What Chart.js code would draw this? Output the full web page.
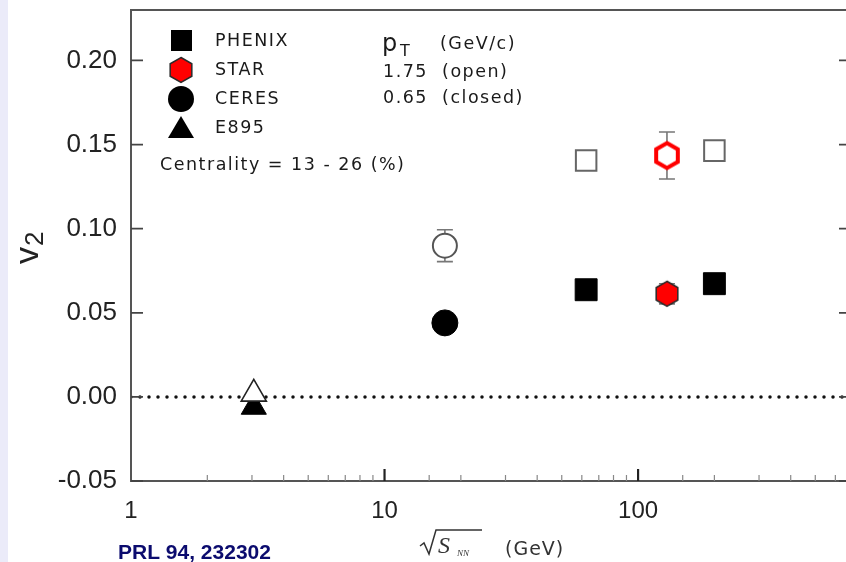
<!DOCTYPE html>
<html>
<head>
<meta charset="utf-8">
<script src="https://cdn.jsdelivr.net/npm/chart.js@4.4.1/dist/chart.umd.min.js"></script>
<style>
  html, body { margin: 0; padding: 0; overflow: hidden; }
  body { width: 846px; height: 562px; background: linear-gradient(to right, #ebebf9 0, #ebebf9 8px, #fff 8px); position: relative; }
  #wrap { position: absolute; left: 0; top: 0; width: 866px; height: 562px; }
</style>
</head>
<body>
<div id="wrap"><canvas id="v2Chart" width="866" height="562"></canvas></div>
<script>
// values (sqrt(s_NN) in GeV, v2)
const energyLabels = [1, 10, 100];
const phenixEnergy = [62.4, 200];
const phenixClosed = [0.0637, 0.0673];
const phenixOpen = [0.1405, 0.1464];
const starEnergy = [130];
const starClosed = [0.0613];
const starClosedErr = [0.006];
const starOpen = [0.1435];
const starOpenErr = [0.014];
const ceresEnergy = [17.3];
const ceresClosed = [0.044];
const ceresOpen = [0.0899];
const ceresOpenErr = [0.0095];
const e895Energy = [3.05];
const e895Closed = [-0.006];
const e895Open = [0.0018];
const zeroLineEnergy = [1, 673];
const zeroLineV2 = [0, 0];

function pts(xs, ys) {
  return xs.map((x, i) => ({ x: x, y: ys[i] }));
}

// hexagon marker (no built-in pointStyle for it)
function hexagon(fill, stroke, lw) {
  const c = document.createElement('canvas');
  c.width = 34; c.height = 34;
  const g = c.getContext('2d');
  g.beginPath();
  for (let i = 0; i < 6; i++) {
    const a = Math.PI / 3 * i - Math.PI / 2;
    const px = 17 + 12.5 * Math.cos(a), py = 17 + 12.5 * Math.sin(a);
    if (i === 0) g.moveTo(px, py); else g.lineTo(px, py);
  }
  g.closePath();
  g.fillStyle = fill;
  g.fill();
  g.lineWidth = lw;
  g.strokeStyle = stroke;
  g.stroke();
  return c;
}
const hexOpen = hexagon('#fff', '#ff0000', 4);
const hexClosed = hexagon('#ff0000', '#2a2a2a', 1.5);

const frame = {
  id: 'frame',
  beforeDatasetsDraw(chart) {
    const ctx = chart.ctx, ys = chart.scales.y;
    ctx.save();
    ctx.strokeStyle = '#777';
    ctx.lineWidth = 1.6;
    chart.data.datasets.forEach((ds, di) => {
      if (!ds.errors) return;
      const meta = chart.getDatasetMeta(di);
      meta.data.forEach((el, i) => {
        const v = ds.data[i].y, e = ds.errors[i];
        const top = ys.getPixelForValue(v + e), bot = ys.getPixelForValue(v - e);
        ctx.beginPath();
        ctx.moveTo(el.x, top); ctx.lineTo(el.x, bot);
        ctx.moveTo(el.x - 8, top); ctx.lineTo(el.x + 8, top);
        ctx.moveTo(el.x - 8, bot); ctx.lineTo(el.x + 8, bot);
        ctx.stroke();
      });
    });
    ctx.restore();
  },
  afterDraw(chart) {
    const ctx = chart.ctx, a = chart.chartArea;
    const xs = chart.scales.x, ys = chart.scales.y;
    ctx.save();
    // box
    ctx.strokeStyle = '#555';
    ctx.lineWidth = 2;
    ctx.beginPath();
    ctx.moveTo(a.right, a.top); ctx.lineTo(a.left, a.top);
    ctx.lineTo(a.left, a.bottom); ctx.lineTo(a.right, a.bottom);
    ctx.stroke();
    // x ticks
    xs.ticks.forEach(t => {
      if (t.value <= xs.min || t.value >= xs.max) return;
      const px = xs.getPixelForValue(t.value);
      const major = energyLabels.includes(t.value);
      ctx.lineWidth = major ? 2.2 : 1.2;
      ctx.strokeStyle = major ? '#222' : '#888';
      ctx.beginPath();
      ctx.moveTo(px, a.bottom); ctx.lineTo(px, a.bottom - (major ? 12 : 6));
      ctx.stroke();
    });
    // y ticks, left and right
    ctx.strokeStyle = '#444';
    ctx.lineWidth = 1.8;
    ys.ticks.forEach(t => {
      const py = ys.getPixelForValue(t.value);
      ctx.beginPath();
      ctx.moveTo(a.left, py); ctx.lineTo(a.left + 12, py);
      ctx.moveTo(a.right, py); ctx.lineTo(a.right - 9, py);
      ctx.stroke();
    });

    // legend
    ctx.fillStyle = '#000';
    ctx.fillRect(171, 30, 21, 21);
    ctx.drawImage(hexClosed, 181 - 17, 70 - 17);
    ctx.beginPath(); ctx.arc(181, 99, 13, 0, Math.PI * 2); ctx.fill();
    ctx.beginPath();
    ctx.moveTo(181, 116); ctx.lineTo(194, 138); ctx.lineTo(168, 138); ctx.closePath(); ctx.fill();

    ctx.fillStyle = '#1a1a1a';
    ctx.textBaseline = 'middle';
    ctx.textAlign = 'left';
    ctx.font = '17.5px "DejaVu Sans"';
    ctx.letterSpacing = '1.5px';
    ctx.fillText('PHENIX', 215, 41);
    ctx.fillText('STAR', 215, 70);
    ctx.fillText('CERES', 215, 99);
    ctx.fillText('E895', 215, 128);
    ctx.fillText('(GeV/c)', 440, 44);
    ctx.fillText('1.75  (open)', 383, 72);
    ctx.fillText('0.65  (closed)', 383, 98);
    ctx.fillText('Centrality = 13 - 26 (%)', 160, 165);
    ctx.letterSpacing = '0px';
    ctx.font = '24px "DejaVu Sans"';
    ctx.fillText('p', 382, 45);
    ctx.font = '16px "DejaVu Sans"';
    ctx.fillText('T', 400, 52);

    // x title
    ctx.strokeStyle = '#333';
    ctx.lineWidth = 1.5;
    ctx.beginPath();
    ctx.moveTo(420, 546); ctx.lineTo(424, 543); ctx.lineTo(429, 554);
    ctx.lineTo(436, 530); ctx.lineTo(482, 530);
    ctx.stroke();
    ctx.fillStyle = '#333';
    ctx.textBaseline = 'alphabetic';
    ctx.font = 'italic 24px "Liberation Serif"';
    ctx.fillText('S', 438, 553);
    ctx.font = 'italic 9px "Liberation Serif"';
    ctx.fillText('NN', 457, 556);
    ctx.font = '19px "DejaVu Sans"';
    ctx.letterSpacing = '1px';
    ctx.fillText('(GeV)', 505, 555);
    ctx.letterSpacing = '0px';

    // y title
    ctx.save();
    ctx.translate(38, 264);
    ctx.rotate(-Math.PI / 2);
    ctx.fillStyle = '#222';
    ctx.font = '34px "Liberation Sans"';
    ctx.fillText('v', 0, 0);
    ctx.font = '26px "Liberation Sans"';
    ctx.fillText('2', 18, 5);
    ctx.restore();

    // reference
    ctx.fillStyle = '#0b0b6e';
    ctx.font = 'bold 21px "Liberation Sans"';
    ctx.fillText('PRL 94, 232302', 118, 559);
    ctx.restore();
  }
};

function keepStep(step) {
  return function (scale) {
    scale.ticks = scale.ticks.filter(t => Math.abs(t.value / step - Math.round(t.value / step)) < 1e-6);
  };
}

const ctx = document.getElementById('v2Chart').getContext('2d');
const v2Chart = new Chart(ctx, {
  type: 'scatter',
  data: {
    datasets: [
      { label: 'E895 open', data: pts(e895Energy, e895Open), pointStyle: 'triangle', pointRadius: 14.5,
        backgroundColor: '#fff', borderColor: '#222', pointBorderWidth: 1.6, order: 0 },
      { label: 'CERES open', data: pts(ceresEnergy, ceresOpen), errors: ceresOpenErr, pointStyle: 'circle', pointRadius: 12,
        backgroundColor: '#fff', borderColor: '#555', pointBorderWidth: 2, order: 0 },
      { label: 'PHENIX open', data: pts(phenixEnergy, phenixOpen), pointStyle: 'rect', pointRadius: 14.5,
        backgroundColor: '#fff', borderColor: '#666', pointBorderWidth: 2, order: 0 },
      { label: 'STAR open', data: pts(starEnergy, starOpen), errors: starOpenErr, pointStyle: hexOpen, order: 0 },
      { label: 'E895 closed', data: pts(e895Energy, e895Closed), pointStyle: 'triangle', pointRadius: 14.5,
        backgroundColor: '#000', borderColor: '#000', pointBorderWidth: 1, order: 1 },
      { label: 'CERES closed', data: pts(ceresEnergy, ceresClosed), pointStyle: 'circle', pointRadius: 13,
        backgroundColor: '#000', borderColor: '#000', pointBorderWidth: 1, order: 1 },
      { label: 'PHENIX closed', data: pts(phenixEnergy, phenixClosed), pointStyle: 'rect', pointRadius: 15.5,
        backgroundColor: '#000', borderColor: '#000', pointBorderWidth: 1, order: 1 },
      { label: 'STAR closed', data: pts(starEnergy, starClosed), errors: starClosedErr, pointStyle: hexClosed, order: 1 },
      { label: 'zero', type: 'line', data: pts(zeroLineEnergy, zeroLineV2), showLine: true, pointRadius: 0,
        borderColor: '#111', borderWidth: 3.5, borderDash: [0, 9], borderCapStyle: 'round', order: 2 }
    ]
  },
  options: {
    responsive: false,
    animation: false,
    events: [],
    layout: { autoPadding: false, padding: { top: 10, right: 18, left: 0, bottom: 0 } },
    plugins: { legend: { display: false }, tooltip: { enabled: false } },
    scales: {
      x: {
        type: 'logarithmic',
        min: 1,
        max: 673,
        grid: { display: false },
        border: { display: false },
        afterFit(scale) { scale.height = 81; scale.paddingLeft = 0; scale.paddingRight = 0; },
        ticks: {
          autoSkip: false,
          maxRotation: 0,
          padding: 8,
          color: '#222',
          font: { family: '"Liberation Sans"', size: 24 },
          callback: v => energyLabels.includes(v) ? String(v) : ''
        }
      },
      y: {
        min: -0.05,
        max: 0.23,
        grid: { display: false },
        border: { display: false },
        afterBuildTicks: keepStep(0.05),
        afterFit(scale) { scale.width = 131; scale.paddingTop = 0; scale.paddingBottom = 0; },
        ticks: {
          stepSize: 0.05,
          padding: 6,
          color: '#222',
          font: { family: '"Liberation Sans"', size: 26, lineHeight: 0.4 },
          callback: v => v.toFixed(2)
        }
      }
    }
  },
  plugins: [frame]
});
</script>
</body>
</html>
